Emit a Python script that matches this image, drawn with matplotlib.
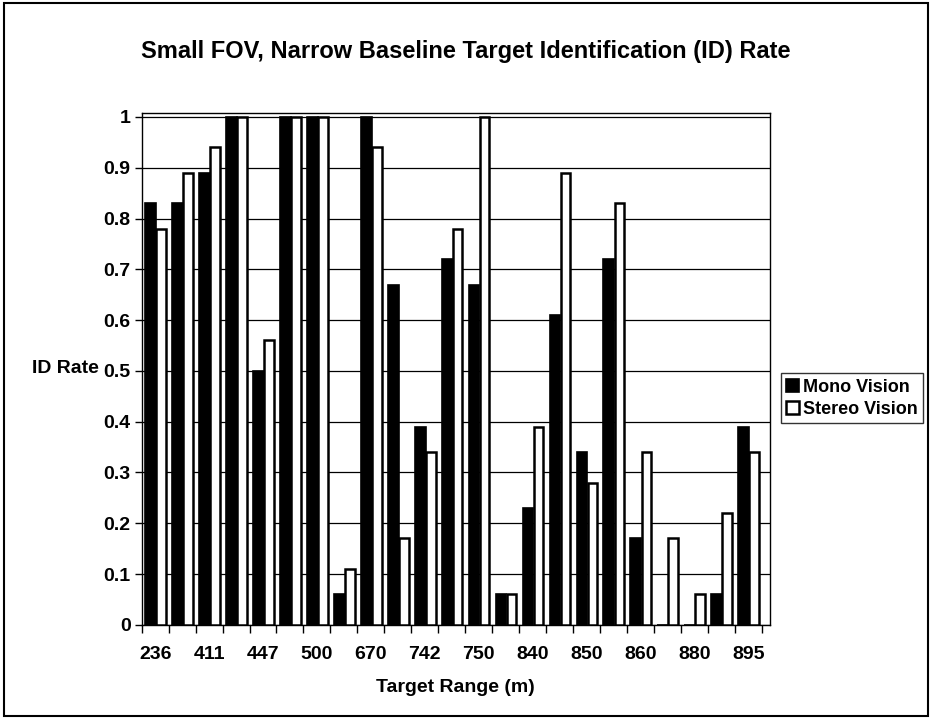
import matplotlib
matplotlib.use("Agg")
import matplotlib.pyplot as plt
import numpy as np
from matplotlib.patches import Rectangle

# ── data ──────────────────────────────────────────────────────────────────────
# 23 range bins; Excel only printed every second label
range_labels = ["236", "", "411", "", "447", "", "500", "", "670", "", "742", "",
                "750", "", "840", "", "850", "", "860", "", "880", "", "895"]
mono_rate   = [0.83, 0.83, 0.89, 1.00, 0.50, 1.00, 1.00, 0.06, 1.00, 0.67, 0.39, 0.72,
               0.67, 0.06, 0.23, 0.61, 0.34, 0.72, 0.17, 0.00, 0.00, 0.06, 0.39]
stereo_rate = [0.78, 0.89, 0.94, 1.00, 0.56, 1.00, 1.00, 0.11, 0.94, 0.17, 0.34, 0.78,
               1.00, 0.06, 0.39, 0.89, 0.28, 0.83, 0.34, 0.17, 0.06, 0.22, 0.34]
y_ticks = [0, 0.1, 0.2, 0.3, 0.4, 0.5, 0.6, 0.7, 0.8, 0.9, 1]

plt.rcParams["font.family"] = ["Liberation Sans", "DejaVu Sans"]
plt.rcParams["font.weight"] = "bold"

fig = plt.figure(figsize=(9.32, 7.19), dpi=100)
ax = fig.add_axes([0.152, 0.131, 0.674, 0.712])

x = np.arange(len(range_labels))
ax.set_axisbelow(True)
ax.yaxis.grid(True, color="black", lw=0.9)

ax.bar(x - 0.17, mono_rate, width=0.40, color="black", edgecolor="black",
       lw=1.2, label="Mono Vision", zorder=2)
ax.bar(x + 0.22, stereo_rate, width=0.36, color="white", edgecolor="black",
       lw=1.8, label="Stereo Vision", zorder=3)

ax.set_xlim(-0.5, 22.8)
ax.set_ylim(0, 1.008)
ax.set_yticks(y_ticks)
ax.set_yticklabels([f"{v:g}" for v in y_ticks], fontsize=14, fontweight="bold")
ax.set_xticks(x)
ax.set_xticklabels(range_labels, fontsize=14, fontweight="bold")
ax.tick_params(axis="x", which="major", length=0, pad=15)
ax.set_xticks(np.arange(-0.5, 23.0, 1.0), minor=True)
ax.tick_params(axis="x", which="minor", length=6, direction="out", width=1)
ax.tick_params(axis="y", length=5, direction="out", width=1, pad=3)

for s in ax.spines.values():
    s.set_color("black")
    s.set_linewidth(1.0)

ax.set_xlabel("Target Range (m)", fontsize=14, fontweight="bold", labelpad=12)
ax.set_ylabel("ID Rate", fontsize=14, fontweight="bold", rotation=0,
              ha="right", va="center", labelpad=3)

fig.suptitle("Small FOV, Narrow Baseline Target Identification (ID) Rate",
             fontsize=17, fontweight="bold", x=0.5, y=0.945)

leg = fig.legend(loc="center left", bbox_to_anchor=(0.838, 0.446),
                 fontsize=13, frameon=True, fancybox=False, handlelength=0.7,
                 handleheight=0.7, handletextpad=0.2, borderpad=0.3,
                 labelspacing=0.3, borderaxespad=0)
leg.get_frame().set_edgecolor("black")
leg.get_frame().set_linewidth(1.0)

# outer chart border
fig.patches.append(Rectangle((0.004, 0.004), 0.992, 0.992, transform=fig.transFigure,
                             fill=False, edgecolor="black", lw=1.5))

plt.savefig("out.png", dpi=100)
